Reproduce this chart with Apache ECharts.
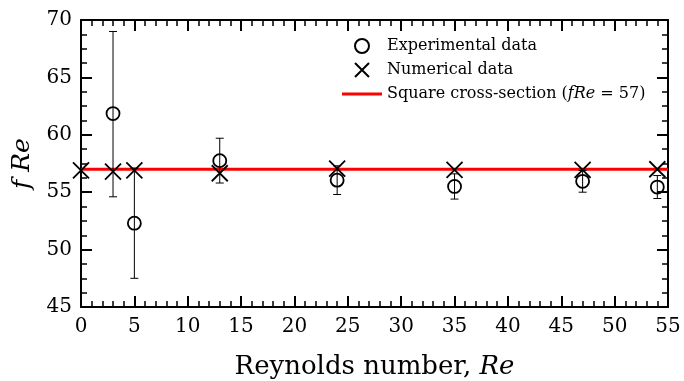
<!DOCTYPE html>
<html>
<head>
<meta charset="utf-8">
<script src="https://cdn.jsdelivr.net/npm/echarts@6/dist/echarts.min.js"></script>
<style>html,body{margin:0;padding:0;background:#fff}#c{width:684px;height:381px}</style>
</head>
<body>
<div id="c"></div>
<script>
// Data
var expRe = [3, 5, 13, 24, 35, 47, 54];
var expVal = [61.85, 52.3, 57.75, 56.05, 55.5, 55.95, 55.45];
var expLow = [54.6, 47.5, 55.8, 54.8, 54.4, 55.0, 54.45];
var expHigh = [69.0, 57.1, 59.7, 57.3, 56.6, 56.9, 56.45];
var numRe = [0, 3, 5, 13, 24, 35, 47, 54];
var numVal = [56.9, 56.8, 56.9, 56.65, 57.05, 56.95, 56.95, 57.0];
var squareFRe = 57;
var xRange = [0, 55];
var yRange = [45, 70];
var xMajor = 5, xMinor = 1, yMajor = 5, yMinor = 1.25;

var FONT = 'DejaVu Serif';
var chart = echarts.init(document.getElementById('c'), null, {renderer: 'canvas'});

function pairs(xs, ys) { return xs.map(function (x, i) { return [x, ys[i]]; }); }

function mkAxis(range, interval, pos, tickLen, tickW, showLine, extra) {
  return Object.assign({
    type: 'value', min: range[0], max: range[1], interval: interval, position: pos,
    axisLine: {show: showLine, onZero: false, lineStyle: {color: '#000', width: 2}},
    axisTick: {show: true, inside: true, length: tickLen, lineStyle: {color: '#000', width: tickW}},
    axisLabel: {show: false},
    splitLine: {show: false}
  }, extra || {});
}

var option = {
  animation: false,
  backgroundColor: '#fff',
  grid: {left: 81, right: 16, top: 20, bottom: 74, containLabel: false, outerBoundsMode: 'none'},
  xAxis: [
    mkAxis(xRange, xMajor, 'bottom', 11, 2, true, {
      axisLabel: {show: true, color: '#000', fontFamily: FONT, fontSize: 20, margin: 10},
      name: 'Reynolds number, {i|Re}', nameLocation: 'middle', nameGap: 47,
      nameTextStyle: {color: '#000', fontFamily: FONT, fontSize: 26,
        rich: {i: {fontStyle: 'italic', fontFamily: FONT, fontSize: 26, color: '#000'}}}
    }),
    mkAxis(xRange, xMajor, 'top', 11, 2, true),
    mkAxis(xRange, xMinor, 'bottom', 6, 1.5, false),
    mkAxis(xRange, xMinor, 'top', 6, 1.5, false)
  ],
  yAxis: [
    mkAxis(yRange, yMajor, 'left', 11, 2, true, {
      axisLabel: {show: true, color: '#000', fontFamily: FONT, fontSize: 20, margin: 9},
      name: 'f Re', nameLocation: 'middle', nameGap: 46,
      nameTextStyle: {color: '#000', fontFamily: FONT, fontSize: 25, fontStyle: 'italic'}
    }),
    mkAxis(yRange, yMajor, 'right', 11, 2, true),
    mkAxis(yRange, yMinor, 'left', 6, 1.5, false),
    mkAxis(yRange, yMinor, 'right', 6, 1.5, false)
  ],
  legend: {
    orient: 'vertical', left: 342, top: 38, padding: 0, itemWidth: 40, itemHeight: 14, itemGap: 8,
    textStyle: {color: '#000', fontFamily: FONT, fontSize: 16,
      rich: {i: {fontStyle: 'italic', fontFamily: FONT, fontSize: 16, color: '#000'}}},
    formatter: function (n) {
      if (n.indexOf('Square') === 0) return 'Square cross-section ({i|fRe} = ' + squareFRe + ')';
      return n;
    },
    data: ['Experimental data', 'Numerical data',
      {name: 'Square cross-section', icon: 'path://M0,0L40,0L40,3L0,3Z'}]
  },
  series: [
    {
      name: 'Square cross-section', type: 'line', symbol: 'none',
      data: [[xRange[0], squareFRe], [xRange[1], squareFRe]],
      lineStyle: {color: '#ff0000', width: 3}, itemStyle: {color: '#ff0000'}, z: 1
    },
    {
      name: 'errbars', type: 'custom', z: 2,
      data: expRe.map(function (x, i) { return [x, expLow[i], expHigh[i]]; }),
      renderItem: function (params, api) {
        var x = api.value(0);
        var lo = api.coord([x, api.value(1)]);
        var hi = api.coord([x, api.value(2)]);
        var w = 4;
        var st = {stroke: '#000', lineWidth: 1};
        return {type: 'group', children: [
          {type: 'line', shape: {x1: lo[0], y1: lo[1], x2: hi[0], y2: hi[1]}, style: st},
          {type: 'line', shape: {x1: lo[0] - w, y1: lo[1], x2: lo[0] + w, y2: lo[1]}, style: st},
          {type: 'line', shape: {x1: hi[0] - w, y1: hi[1], x2: hi[0] + w, y2: hi[1]}, style: st}
        ]};
      },
      silent: true
    },
    {
      name: 'Experimental data', type: 'scatter', symbol: 'circle', symbolSize: 13, z: 3,
      data: pairs(expRe, expVal), clip: false,
      itemStyle: {color: 'transparent', borderColor: '#000', borderWidth: 1.8, opacity: 1}
    },
    {
      name: 'Numerical data', type: 'scatter', symbol: 'path://M0,0L10,10M10,0L0,10', symbolSize: 16, z: 4,
      data: pairs(numRe, numVal), clip: false,
      itemStyle: {color: 'transparent', borderColor: '#000', borderWidth: 1.8, opacity: 1}
    }
  ]
};
chart.setOption(option);
</script>
</body>
</html>
